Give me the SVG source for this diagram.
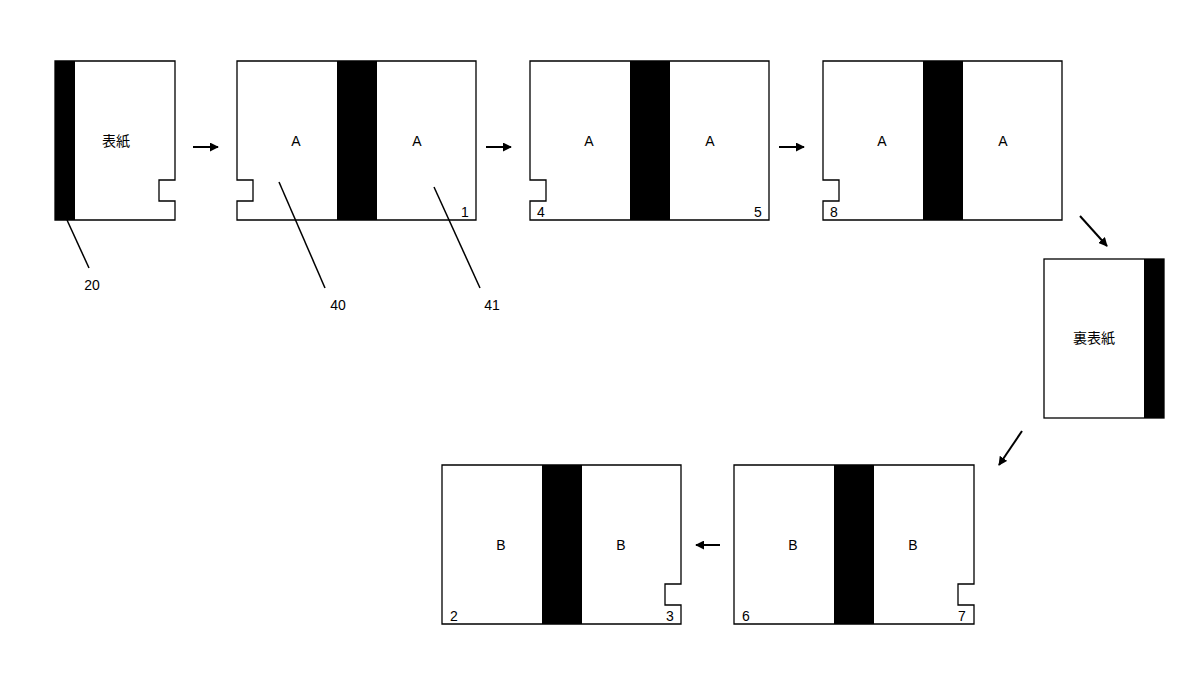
<svg xmlns="http://www.w3.org/2000/svg" width="1200" height="700" viewBox="0 0 1200 700">
<style>
.pg{fill:#fff;stroke:#000;stroke-width:1.3}
.sp{fill:#000}
text{font-family:"Liberation Sans","Noto Sans CJK JP",sans-serif;font-size:14px;fill:#000}
.c{text-anchor:middle}
.ln{stroke:#000;stroke-width:1.5;fill:none}
.ar{stroke:#000;stroke-width:2;fill:none;marker-end:url(#ah)}
</style>
<defs><marker id="ah" viewBox="0 0 10 10" refX="9" refY="5" markerWidth="4.5" markerHeight="4.5" orient="auto"><path d="M0,0L10,5L0,10z"/></marker></defs>
<g id="cover"><path class="pg" d="M55,61H175V180H159V201H175V220H55Z"/><rect class="sp" x="55" y="61" width="20" height="159"/><text class="c" x="116" y="146">表紙</text></g>
<g id="spread1"><path class="pg" d="M237,61H476V220H237V201H253V180H237Z"/><rect class="sp" x="337" y="61" width="40" height="159"/><text class="c" x="296" y="146">A</text><text class="c" x="417" y="146">A</text><text x="461" y="217">1</text></g>
<g id="spread2"><path class="pg" d="M530,61H769V220H530V201H546V180H530Z"/><rect class="sp" x="630" y="61" width="40" height="159"/><text class="c" x="589" y="146">A</text><text class="c" x="710" y="146">A</text><text x="537" y="217">4</text><text x="754" y="217">5</text></g>
<g id="spread3"><path class="pg" d="M823,61H1062V220H823V201H839V180H823Z"/><rect class="sp" x="923" y="61" width="40" height="159"/><text class="c" x="882" y="146">A</text><text class="c" x="1003" y="146">A</text><text x="830" y="217">8</text></g>
<g id="backcover"><rect class="pg" x="1044" y="259" width="120" height="159"/><rect class="sp" x="1144" y="259" width="20" height="159"/><text class="c" x="1094" y="343">裏表紙</text></g>
<g id="spread4"><path class="pg" d="M734,465H974V584H958V605H974V624H734Z"/><rect class="sp" x="834" y="465" width="40" height="159"/><text class="c" x="793" y="550">B</text><text class="c" x="913" y="550">B</text><text x="742" y="621">6</text><text x="958" y="621">7</text></g>
<g id="spread5"><path class="pg" d="M442,465H681V584H665V605H681V624H442Z"/><rect class="sp" x="542" y="465" width="40" height="159"/><text class="c" x="501" y="550">B</text><text class="c" x="621" y="550">B</text><text x="450" y="621">2</text><text x="666" y="621">3</text></g>
<g id="labels"><text class="c" x="92" y="290">20</text><text class="c" x="338" y="310">40</text><text class="c" x="492" y="310">41</text></g>
<g id="connectors">
<line class="ln" x1="67" y1="220" x2="89" y2="268"/>
<line class="ln" x1="279" y1="182" x2="325" y2="288"/>
<line class="ln" x1="434" y1="187" x2="480" y2="288"/>
<line class="ar" x1="193" y1="147" x2="218" y2="147"/>
<line class="ar" x1="486" y1="147" x2="511" y2="147"/>
<line class="ar" x1="779" y1="147" x2="804" y2="147"/>
<line class="ar" x1="1080" y1="216" x2="1107" y2="246"/>
<line class="ar" x1="1022" y1="431" x2="999" y2="465"/>
<line class="ar" x1="720" y1="545" x2="696" y2="545"/>
</g>
</svg>
